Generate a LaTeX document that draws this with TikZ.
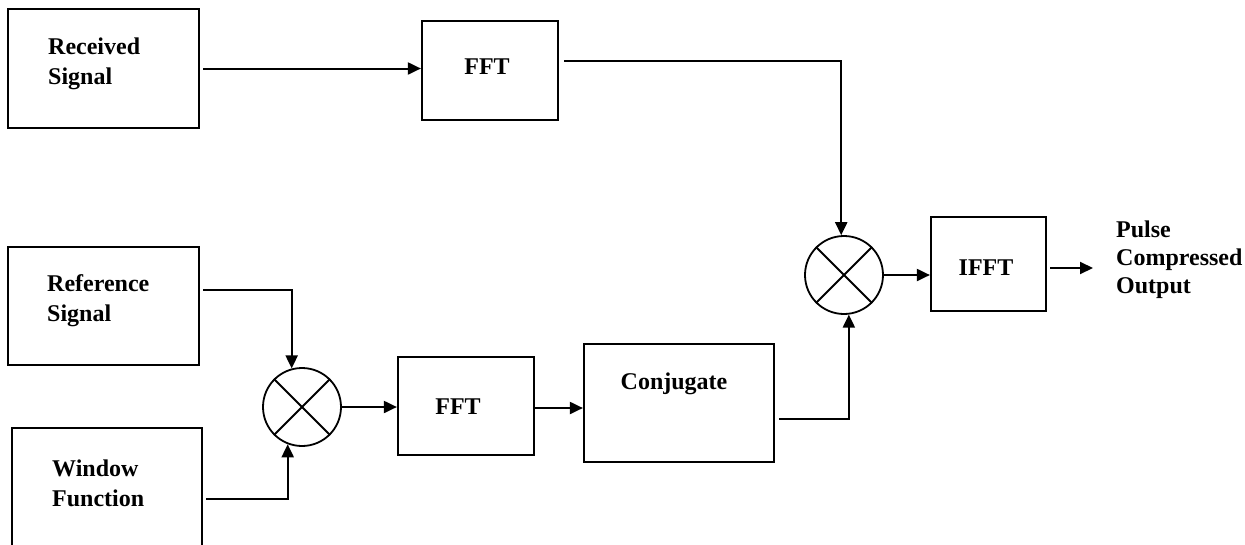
\documentclass[tikz,border=0pt]{standalone}
\usepackage{fontspec}
\setmainfont{Liberation Serif}
\usetikzlibrary{arrows.meta,calc}
\begin{document}
\begin{tikzpicture}[x=1pt,y=-1pt,
  blk/.style={draw, line width=2.2pt, inner sep=0pt, rectangle},
  mult/.style={draw, circle, line width=1.8pt, inner sep=0pt, minimum size=78pt},
  lbl/.style={font=\bfseries\fontsize{24}{30}\selectfont, inner sep=0pt, align=left},
  conn/.style={line width=2pt, -{Triangle[length=13pt,width=12pt]}},
  cross/.style={line width=1.8pt}
]
\useasboundingbox (0,0) rectangle (1245,544);
\clip (0,0) rectangle (1245,544);

% blocks
\node[blk, minimum width=191pt, minimum height=119pt] (rec) at (103.5,68.5) {};
\node[blk, minimum width=136pt, minimum height=99pt] (fft1) at (490,70.5) {};
\node[blk, minimum width=191pt, minimum height=118pt] (ref) at (103.5,306) {};
\node[blk, minimum width=190pt, minimum height=140pt] (win) at (107,498) {};
\node[mult] (m1) at (302,407) {};
\draw[cross] (m1.north east) -- (m1.south west) (m1.north west) -- (m1.south east);
\node[blk, minimum width=136pt, minimum height=98pt] (fft2) at (466,406) {};
\node[blk, minimum width=190pt, minimum height=118pt] (conj) at (679,403) {};
\node[mult] (m2) at (844,275) {};
\draw[cross] (m2.north east) -- (m2.south west) (m2.north west) -- (m2.south east);
\node[blk, minimum width=115pt, minimum height=94pt] (ifft) at (988.5,264) {};

% labels
\node[lbl, anchor=west] (trec) at (48,64) {Received\\Signal};
\node[lbl] (tfft1) at (487,66.5) {FFT};
\node[lbl, anchor=west] (tref) at (47,301) {Reference\\Signal};
\node[lbl, anchor=west] (twin) at (52,483.5) {Window\\Function};
\node[lbl] (tfft2) at (458,407) {FFT};
\node[lbl] (tconj) at (674,384) {Conjugate};
\node[lbl] (tifft) at (986,267.5) {IFFT};
\node[lbl, anchor=west, font=\bfseries\fontsize{24}{28}\selectfont] (tout) at (1116,260) {Pulse\\Compressed\\Output};

% connectors
\draw[conn] ([xshift=3pt]rec.east) -- (rec.east -| fft1.west);
\draw[conn] ([shift={(5pt,9.5pt)}]fft1.east) -| (m2.94);
\draw[conn] ([shift={(3pt,16pt)}]ref.east) -| (m1.105);
\draw[conn] ([shift={(3pt,-1pt)}]win.east) -| (m1.249);
\draw[conn] (m1.east) -- (m1.east -| fft2.west);
\draw[conn] ([yshift=-2pt]fft2.east) -- ([yshift=-2pt]fft2.east -| conj.west);
\draw[conn] ([shift={(4pt,-16pt)}]conj.east) -| (m2.277);
\draw[conn] (m2.east) -- (m2.east -| ifft.west);
\coordinate (outp) at (1093,268);
\draw[conn] ([shift={(3pt,-4pt)}]ifft.east) -- (outp);
\end{tikzpicture}
\end{document}
